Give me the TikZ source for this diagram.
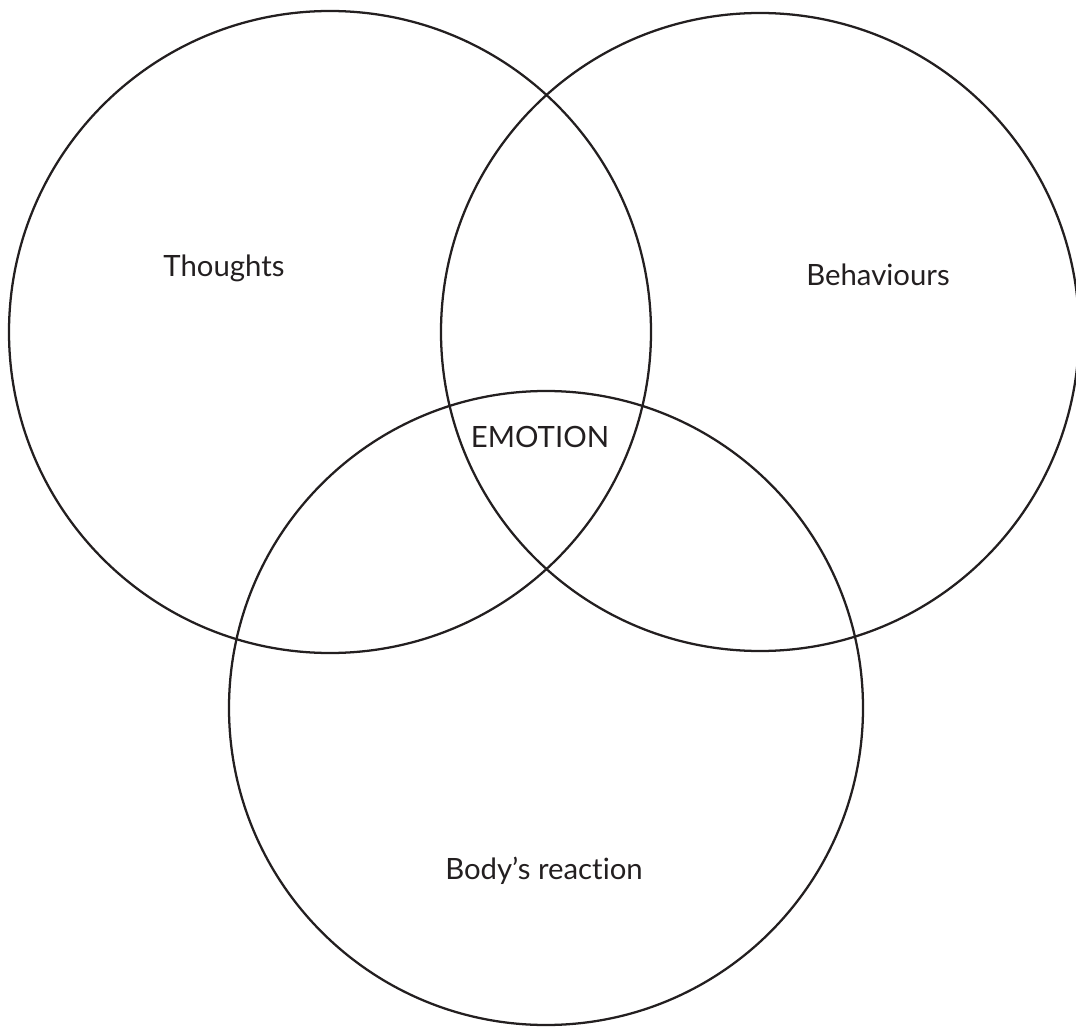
\documentclass[tikz,border=0pt]{standalone}
\usepackage{fontspec}
\setmainfont{Lato}[Ligatures={NoCommon,NoRare}]
\definecolor{ink}{HTML}{231F20}
\begin{document}
\begin{tikzpicture}[x=0.75pt,y=-0.75pt,
  ring/.style={circle,draw=ink,line width=1.7pt,inner sep=0pt},
  lbl/.style={text=ink,font=\fontsize{22}{26}\selectfont,inner sep=0pt}]
\useasboundingbox (0,0) rectangle (1076,1027);
\node[ring,minimum size=481.5pt] (c1) at (330,332) {};
\node[ring,minimum size=478.5pt] (c2) at (760,332) {};
\node[ring,minimum size=475.5pt] (c3) at (546,708) {};
\node[lbl] (thoughts) at (224,268) {Thoughts};
\node[lbl] (behav) at (878,275) {Behaviours};
\node[lbl] (emotion) at (540,437) {EMOTION};
\node[lbl] (body) at (544,871) {Body’s reaction};
\end{tikzpicture}
\end{document}
